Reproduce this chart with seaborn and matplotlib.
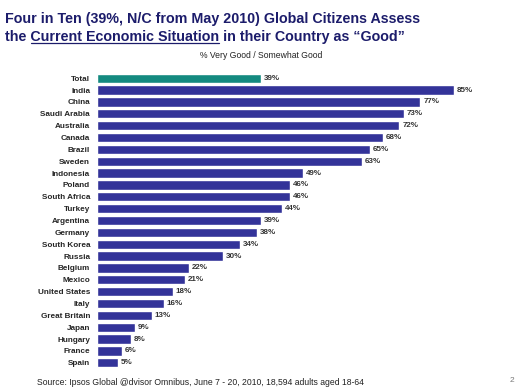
import pandas as pd
import seaborn as sns
import matplotlib.pyplot as plt

# data
countries = ['Total', 'India', 'China', 'Saudi Arabia', 'Australia', 'Canada', 'Brazil',
             'Sweden', 'Indonesia', 'Poland', 'South Africa', 'Turkey', 'Argentina',
             'Germany', 'South Korea', 'Russia', 'Belgium', 'Mexico', 'United States',
             'Italy', 'Great Britain', 'Japan', 'Hungary', 'France', 'Spain']
values = [39, 85, 77, 73, 72, 68, 65, 63, 49, 46, 46, 44, 39, 38, 34, 30, 22, 21, 18,
          16, 13, 9, 8, 6, 5]

df = pd.DataFrame({'country': countries, 'pct': values})
df['group'] = ['total'] + ['country'] * (len(df) - 1)

sns.set_style('white')
plt.rcParams['font.family'] = ['Liberation Sans', 'DejaVu Sans']

navy = '#333399'
teal = '#148a80'
title_col = '#1c1c6b'

fig = plt.figure(figsize=(5.2, 3.9), dpi=100)
ax = fig.add_axes([0.1865, 0.0546, 0.727, 0.76])

sns.barplot(data=df, y='country', x='pct', hue='group', palette={'total': teal, 'country': navy},
            dodge=False, width=0.78, legend=False, ax=ax, saturation=1)

for cont in ax.containers:
    ax.bar_label(cont, fmt='%d%%', padding=2, fontsize=5.8, fontweight='bold', color='#333333')

ax.set_xlim(0, 90)
ax.set_ylim(len(df) - 0.5, -0.5)
ax.set_xlabel('')
ax.set_ylabel('')
ax.set_xticks([])
ax.tick_params(axis='y', length=0, pad=5, labelsize=5.9)
for lab in ax.get_yticklabels():
    lab.set_fontweight('bold')
sns.despine(ax=ax, left=True, bottom=True)

# title, second line with underlined phrase
fs = 10.3
fig.text(0.01, 0.97, 'Four in Ten (39%, N/C from May 2010) Global Citizens Assess',
         fontsize=fs, fontweight='bold', color=title_col, va='top', ha='left')
line2 = fig.text(0.01, 0.922, 'the Current Economic Situation in their Country as \u201cGood\u201d',
                 fontsize=fs, fontweight='bold', color=title_col, va='top', ha='left')
fig.canvas.draw()
r = fig.canvas.get_renderer()
tmp1 = fig.text(0.01, 0.5, 'the ', fontsize=fs, fontweight='bold')
tmp2 = fig.text(0.01, 0.5, 'the Current Economic Situation', fontsize=fs, fontweight='bold')
x0 = tmp1.get_window_extent(r).x1
x1 = tmp2.get_window_extent(r).x1
tmp1.remove()
tmp2.remove()
bb = line2.get_window_extent(r)
yu = bb.y0 + 1.5
fig.add_artist(plt.Line2D([x0 / 520, x1 / 520], [yu / 390, yu / 390],
                          color=title_col, lw=0.9, transform=fig.transFigure))

fig.text(0.503, 0.858, '% Very Good / Somewhat Good', fontsize=6.2, ha='center', va='center',
         color='#222222')
fig.text(0.071, 0.02, 'Source: Ipsos Global @dvisor Omnibus, June 7 - 20, 2010, 18,594 adults aged 18-64',
         fontsize=6.2, ha='left', va='center', color='#222222')
fig.text(0.985, 0.025, '2', fontsize=6, ha='center', va='center', color='#777777')

fig.savefig('out.png', dpi=100)
